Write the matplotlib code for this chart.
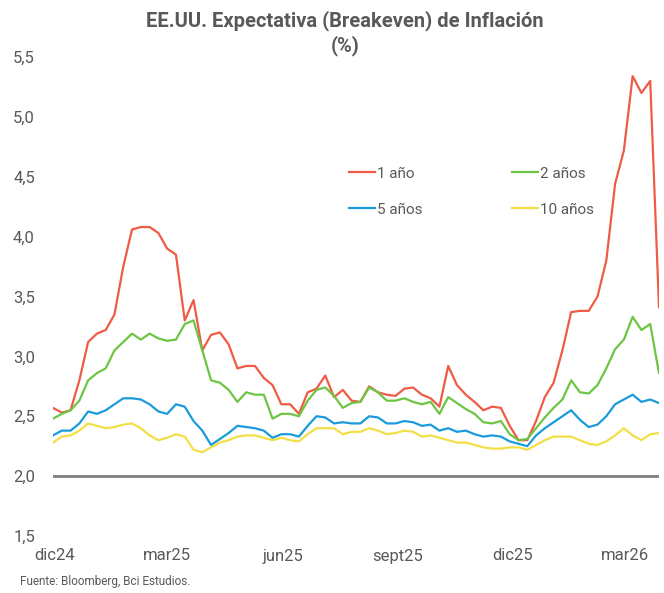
import matplotlib
matplotlib.use("Agg")
import matplotlib.pyplot as plt
import pandas as pd

plt.rcParams['font.family'] = ['Roboto', 'DejaVu Sans']

# weekly observations
dates = pd.date_range("2024-11-30", periods=70, freq="7D")

uno = [2.57, 2.53, 2.55, 2.80, 3.12, 3.19, 3.22, 3.35, 3.75, 4.06,
       4.08, 4.08, 4.03, 3.90, 3.85, 3.30, 3.47, 3.05, 3.18, 3.20,
       3.10, 2.90, 2.92, 2.92, 2.82, 2.76, 2.60, 2.60, 2.52, 2.70,
       2.73, 2.84, 2.66, 2.72, 2.63, 2.62, 2.75, 2.70, 2.68, 2.67,
       2.73, 2.74, 2.68, 2.65, 2.58, 2.92, 2.76, 2.68, 2.62, 2.55,
       2.58, 2.57, 2.42, 2.30, 2.30, 2.46, 2.66, 2.78, 3.05, 3.37,
       3.38, 3.38, 3.50, 3.80, 4.44, 4.72, 5.34, 5.20, 5.30, 3.41]
dos = [2.48, 2.52, 2.55, 2.63, 2.80, 2.86, 2.90, 3.05, 3.12, 3.19,
       3.14, 3.19, 3.15, 3.13, 3.14, 3.27, 3.30, 3.05, 2.80, 2.78,
       2.72, 2.62, 2.70, 2.68, 2.68, 2.48, 2.52, 2.52, 2.50, 2.63,
       2.72, 2.74, 2.67, 2.57, 2.61, 2.62, 2.74, 2.70, 2.63, 2.63,
       2.65, 2.62, 2.60, 2.62, 2.52, 2.66, 2.61, 2.56, 2.52, 2.45,
       2.44, 2.46, 2.35, 2.30, 2.31, 2.40, 2.49, 2.57, 2.64, 2.80,
       2.70, 2.69, 2.76, 2.90, 3.06, 3.14, 3.33, 3.22, 3.27, 2.86]
cinco = [2.34, 2.38, 2.38, 2.44, 2.54, 2.52, 2.55, 2.60, 2.65, 2.65,
         2.64, 2.60, 2.54, 2.52, 2.60, 2.58, 2.46, 2.38, 2.26, 2.31,
         2.36, 2.42, 2.41, 2.40, 2.38, 2.32, 2.35, 2.35, 2.33, 2.42,
         2.50, 2.49, 2.44, 2.45, 2.44, 2.44, 2.50, 2.49, 2.44, 2.44,
         2.46, 2.45, 2.42, 2.43, 2.38, 2.40, 2.37, 2.38, 2.35, 2.33,
         2.34, 2.33, 2.29, 2.27, 2.25, 2.34, 2.40, 2.45, 2.50, 2.55,
         2.47, 2.41, 2.43, 2.50, 2.60, 2.64, 2.68, 2.62, 2.64, 2.61]
diez = [2.28, 2.33, 2.34, 2.38, 2.44, 2.42, 2.40, 2.41, 2.43, 2.44,
        2.40, 2.34, 2.30, 2.32, 2.35, 2.33, 2.22, 2.20, 2.24, 2.28,
        2.30, 2.33, 2.34, 2.34, 2.32, 2.30, 2.32, 2.30, 2.29, 2.35,
        2.40, 2.40, 2.40, 2.35, 2.37, 2.37, 2.40, 2.38, 2.35, 2.36,
        2.38, 2.37, 2.33, 2.34, 2.32, 2.30, 2.28, 2.28, 2.26, 2.24,
        2.23, 2.23, 2.24, 2.24, 2.22, 2.26, 2.30, 2.33, 2.33, 2.33,
        2.30, 2.27, 2.26, 2.29, 2.34, 2.40, 2.34, 2.30, 2.35, 2.36]

series_labels = ["1 año", "2 años", "5 años", "10 años"]
colors = ["#EF5B45", "#6DC543", "#1A9BDB", "#F2DF45"]

tick_dates = pd.to_datetime(["2024-12-01", "2025-03-01", "2025-06-01",
                             "2025-09-01", "2025-12-01", "2026-03-01"])
tick_labels = ["dic24", "mar25", "jun25", "sept25", "dic25", "mar26"]
yticks = [1.5, 2.0, 2.5, 3.0, 3.5, 4.0, 4.5, 5.0, 5.5]

grey = "#595959"

fig = plt.figure(figsize=(6.64, 5.93), dpi=100)
ax = fig.add_axes([53/664, 1 - 536/593, (659 - 53)/664, (536 - 57)/593])

handles = []
for vals, lab, c in zip([uno, dos, cinco, diez], series_labels, colors):
    h, = ax.plot(dates, vals, color=c, lw=1.6, label=lab)
    handles.append(h)

ax.axhline(2.0, color="#7F7F7F", lw=2.0, zorder=0)

ax.set_xlim(dates[0], dates[-1])
ax.set_ylim(1.5, 5.5)
ax.set_yticks(yticks)
ax.set_yticklabels([f"{v:.1f}".replace(".", ",") for v in yticks])
ax.set_xticks(tick_dates)
ax.set_xticklabels(tick_labels)
ax.tick_params(axis="both", length=0, labelsize=12, colors=grey)
ax.tick_params(axis="y", pad=13)
ax.tick_params(axis="x", pad=9)
for s in ax.spines.values():
    s.set_visible(False)

# legend filled column-wise: order so rows read 1 año | 2 años, 5 años | 10 años
leg = ax.legend(handles=[handles[0], handles[2], handles[1], handles[3]],
                ncol=2, loc="upper left", bbox_to_anchor=(0.465, 0.80),
                frameon=False, fontsize=11, handlelength=1.7,
                handletextpad=0.15, columnspacing=5.85, labelspacing=1.45)
for t in leg.get_texts():
    t.set_color(grey)

fig.text(345/664, 1 - 21/593, "EE.UU. Expectativa (Breakeven) de Inflación",
         ha="center", va="center", fontsize=14.5, fontweight="bold", color=grey)
fig.text(345/664, 1 - 46/593, "(%)", ha="center", va="center",
         fontsize=14.5, fontweight="bold", color=grey)
fig.text(20/664, 1 - 581/593, "Fuente: Bloomberg, Bci Estudios.",
         ha="left", va="center", fontsize=8.5, color=grey)

fig.savefig("out.png", dpi=100)
